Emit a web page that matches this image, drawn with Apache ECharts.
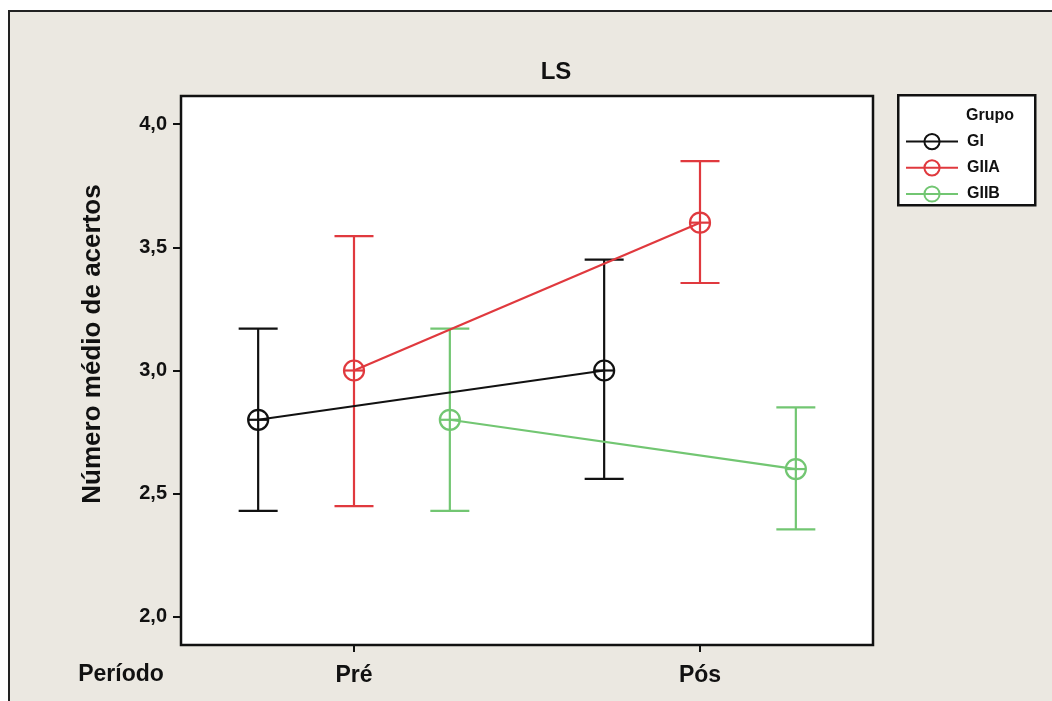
<!DOCTYPE html>
<html>
<head>
<meta charset="utf-8">
<script src="https://cdn.jsdelivr.net/npm/echarts@6/dist/echarts.min.js"></script>
<style>
  html, body { margin: 0; padding: 0; background: #ffffff; }
  #frame { position: absolute; left: 8px; top: 10px; width: 1100px; height: 760px;
           background: #ebe8e1; border: 2.5px solid #222; box-sizing: border-box; }
  #chart { position: absolute; left: 0; top: 0; width: 1052px; height: 701px; }
</style>
</head>
<body>
<div id="frame"></div>
<div id="chart"></div>
<script>
// ---- data ----
const periods = ['Pré', 'Pós'];
const groups = ['GI', 'GIIA', 'GIIB'];
const giMean = [2.8, 3.0];
const giLow = [2.43, 2.56];
const giHigh = [3.17, 3.45];
const giiaMean = [3.0, 3.6];
const giiaLow = [2.45, 3.355];
const giiaHigh = [3.545, 3.85];
const giibMean = [2.8, 2.6];
const giibLow = [2.43, 2.355];
const giibHigh = [3.17, 2.85];
const yTicks = [2.0, 2.5, 3.0, 3.5, 4.0];

// ---- styling / layout ----
const colors = ['#111111', '#e0393e', '#72c672'];
const dodge = 0.277;
const FONT = '"Liberation Sans", Arial, sans-serif';

const means = [giMean, giiaMean, giibMean];
const lows = [giLow, giiaLow, giibLow];
const highs = [giHigh, giiaHigh, giibHigh];

function xPos(pi, gi) { return (pi + 1) + (gi - 1) * dodge; }

const series = [];
groups.forEach((g, gi) => {
  const c = colors[gi];
  const errData = periods.map((p, pi) => [xPos(pi, gi), means[gi][pi], lows[gi][pi], highs[gi][pi]]);
  series.push({
    name: g + ' IC',
    type: 'custom',
    coordinateSystem: 'cartesian2d',
    data: errData,
    z: 3,
    silent: true,
    renderItem: function (params, api) {
      const x = api.value(0), m = api.value(1), lo = api.value(2), hi = api.value(3);
      const pm = api.coord([x, m]), pl = api.coord([x, lo]), ph = api.coord([x, hi]);
      const cap = 19.5, r = 10;
      const st = { stroke: c, lineWidth: 2.2, fill: null };
      return {
        type: 'group',
        children: [
          { type: 'line', shape: { x1: pl[0], y1: pl[1], x2: ph[0], y2: ph[1] }, style: st },
          { type: 'line', shape: { x1: pl[0] - cap, y1: pl[1], x2: pl[0] + cap, y2: pl[1] }, style: st },
          { type: 'line', shape: { x1: ph[0] - cap, y1: ph[1], x2: ph[0] + cap, y2: ph[1] }, style: st },
          { type: 'line', shape: { x1: pm[0] - r, y1: pm[1], x2: pm[0] + r, y2: pm[1] }, style: st }
        ]
      };
    }
  });
  series.push({
    name: g,
    type: 'line',
    data: periods.map((p, pi) => [xPos(pi, gi), means[gi][pi]]),
    color: c,
    symbol: 'circle',
    symbolSize: 20,
    z: 4,
    itemStyle: { color: 'rgba(255,255,255,0)', borderColor: c, borderWidth: 2.2 },
    lineStyle: { color: c, width: 2.2 },
    emphasis: { disabled: true },
    silent: true
  });
});

const chart = echarts.init(document.getElementById('chart'), null, { renderer: 'canvas' });
chart.setOption({
  animation: false,
  backgroundColor: 'transparent',
  title: {
    text: 'LS', left: 551, top: 55, textAlign: 'center',
    textStyle: { fontFamily: FONT, fontWeight: 'bold', fontSize: 24, color: '#111' }
  },
  grid: {
    left: 181, top: 96, width: 692, height: 549,
    show: true, backgroundColor: '#ffffff', borderColor: '#111', borderWidth: 2.5
  },
  xAxis: {
    type: 'value', min: 0.5, max: 2.5,
    axisLine: { show: false },
    splitLine: { show: false },
    axisTick: { show: true, customValues: [1, 2], length: 7, lineStyle: { color: '#111', width: 2 } },
    axisLabel: {
      customValues: [1, 2], margin: 19,
      formatter: v => periods[Math.round(v) - 1],
      fontFamily: FONT, fontWeight: 'bold', fontSize: 23, color: '#111'
    }
  },
  yAxis: {
    type: 'value', min: 1.886, max: 4.114,
    axisLine: { show: false },
    splitLine: { show: false },
    axisTick: { show: true, customValues: yTicks, length: 8, lineStyle: { color: '#111', width: 2 } },
    axisLabel: {
      customValues: yTicks, margin: 14,
      formatter: v => v.toFixed(1).replace('.', ','),
      fontFamily: FONT, fontWeight: 'bold', fontSize: 20, color: '#111'
    }
  },
  legend: {
    data: groups,
    orient: 'vertical',
    left: 905, top: 133,
    itemWidth: 52, itemHeight: 19, itemGap: 9,
    padding: 0,
    selectedMode: false,
    textStyle: { fontFamily: FONT, fontWeight: 'bold', fontSize: 16, color: '#111', padding: [0, 0, 0, 4] }
  },
  graphic: [
    {
      type: 'rect', left: 897, top: 94, z: 1,
      shape: { width: 137, height: 110 },
      style: { fill: '#ffffff', stroke: '#111', lineWidth: 2.5 }
    },
    {
      type: 'text', left: 966, top: 108, z: 2,
      style: { text: 'Grupo', font: 'bold 16px ' + FONT, fill: '#111' }
    },
    {
      type: 'text', x: 121, y: 675, z: 2,
      style: { text: 'Período', font: 'bold 23px ' + FONT, fill: '#111', align: 'center', verticalAlign: 'middle' }
    },
    {
      type: 'text', x: 93, y: 344, rotation: Math.PI / 2, z: 2,
      style: { text: 'Número médio de acertos', font: 'bold 26px ' + FONT, fill: '#111', align: 'center', verticalAlign: 'middle' }
    }
  ],
  series: series
});
</script>
</body>
</html>
